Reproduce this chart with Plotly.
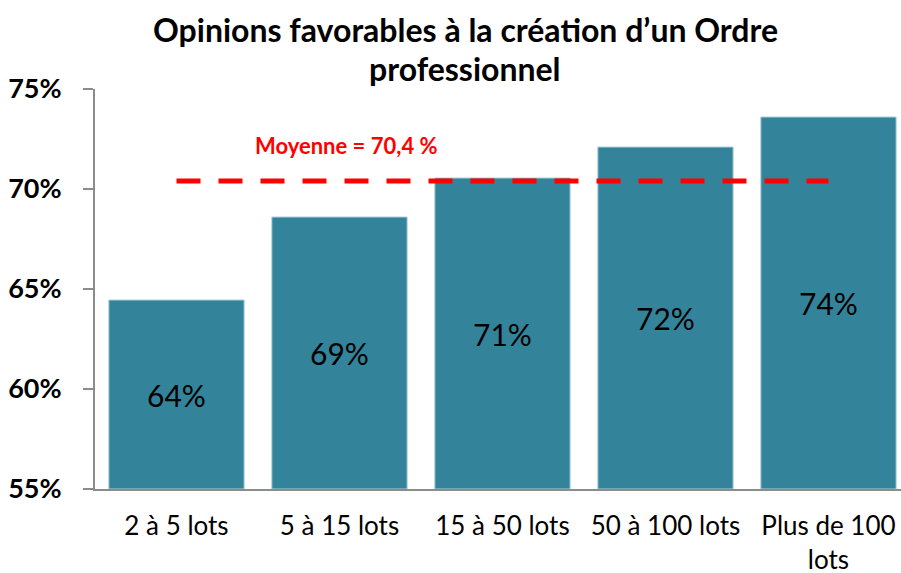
import plotly.graph_objects as go

categories = ["2 à 5 lots", "5 à 15 lots", "15 à 50 lots", "50 à 100 lots", "Plus de 100<br>lots"]
values = [64.45, 68.6, 70.55, 72.1, 73.6]
bar_labels = ["64%", "69%", "71%", "72%", "74%"]
mean_value = 70.4
mean_label = "Moyenne = 70,4 %"
y_ticks = [55, 60, 65, 70, 75]
y_floor = 55

xs = list(range(len(categories)))

W, H = 901, 573
L, T, B = 95, 89, 84
plot_w, plot_h = W - L, H - T - B

fig = go.Figure()

# bars start at the axis floor so the labels sit in the visible part
fig.add_trace(go.Bar(
    x=xs, y=[v - y_floor for v in values], base=y_floor, text=bar_labels,
    textposition="inside", insidetextanchor="middle",
    textfont=dict(size=30, color="black", family="Lato"),
    marker=dict(color="#33849b", line=dict(color="#a9d0dc", width=1)),
    width=0.83,
))

fig.add_trace(go.Scatter(
    x=[xs[0], xs[-1]], y=[mean_value, mean_value], mode="lines",
    line=dict(color="#ff0000", width=5, dash="24px,18px"),
    hoverinfo="skip",
))

fig.add_annotation(
    x=1.04, y=mean_value + 1.8, text="<b>" + mean_label + "</b>",
    showarrow=False, font=dict(size=22, color="#ff0000", family="Lato"),
)

title_x = (465 - L) / plot_w
fig.add_annotation(
    xref="paper", yref="paper", x=title_x, y=1 + (T - 29) / plot_h,
    text="<b>Opinions favorables à la création d’un Ordre</b>",
    showarrow=False, font=dict(size=32, color="black", family="Lato"),
    xanchor="center", yanchor="middle",
)
fig.add_annotation(
    xref="paper", yref="paper", x=title_x, y=1 + (T - 69) / plot_h,
    text="<b>professionnel</b>",
    showarrow=False, font=dict(size=32, color="black", family="Lato"),
    xanchor="center", yanchor="middle",
)

fig.update_layout(
    width=W, height=H,
    margin=dict(l=L, r=0, t=T, b=B, autoexpand=False),
    plot_bgcolor="white", paper_bgcolor="white",
    showlegend=False,
    font=dict(family="Lato", color="black"),
)

fig.update_xaxes(
    range=[-0.5, 4.445], tickvals=xs, ticktext=categories,
    showline=True, linecolor="#8c8c8c", linewidth=2,
    ticks="", showgrid=False, zeroline=False, ticklabelstandoff=13,
    tickfont=dict(size=26, color="black"),
)
fig.update_yaxes(
    range=[y_floor, 75], tickvals=y_ticks,
    ticktext=["<b>%d%%</b>" % t for t in y_ticks],
    showline=True, linecolor="#8c8c8c", linewidth=2,
    ticks="outside", ticklen=10, tickcolor="#8c8c8c", tickwidth=2,
    showgrid=False, zeroline=False, ticklabelstandoff=16,
    tickfont=dict(size=27, color="black"),
)

# drop the default page margin so the figure fills the window
fig.write_html(
    "out.html",
    config={"displayModeBar": False},
    post_script="document.body.style.margin='0';document.body.style.overflow='hidden';",
)
